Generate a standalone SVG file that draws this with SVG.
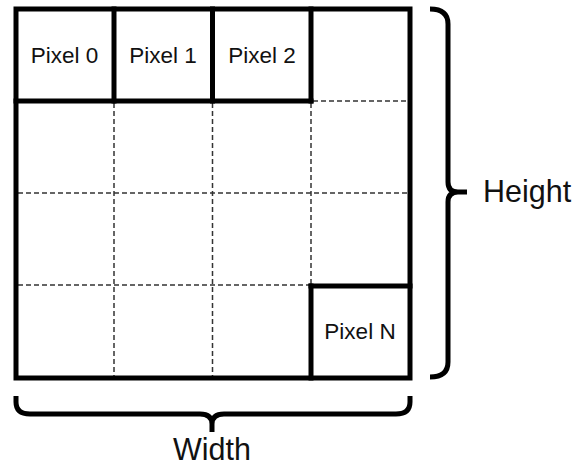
<svg xmlns="http://www.w3.org/2000/svg" width="583" height="465" viewBox="0 0 583 465">
<style>
.thick{fill:none;stroke:#000;stroke-width:5;stroke-linecap:square}
.dash{fill:none;stroke:#333;stroke-width:1.5;stroke-dasharray:5 3}
.brace{fill:none;stroke:#000;stroke-width:5;stroke-linecap:butt;stroke-linejoin:round}
.lbl{font-family:"Liberation Sans",Arial,sans-serif;font-size:22.5px;fill:#111;text-anchor:middle}
.big{font-family:"Liberation Sans",Arial,sans-serif;font-size:30.5px;fill:#111}
</style>
<rect width="583" height="465" fill="#fff"/>
<g id="connectors">
<line class="dash" x1="114" y1="103" x2="114" y2="376"/>
<line class="dash" x1="212.5" y1="103" x2="212.5" y2="376"/>
<line class="dash" x1="311" y1="103" x2="311" y2="284"/>
<line class="dash" x1="313" y1="101" x2="408" y2="101"/>
<line class="dash" x1="18" y1="193" x2="408" y2="193"/>
<line class="dash" x1="18" y1="285" x2="309" y2="285"/>
</g>
<g id="grid">
<rect class="thick" x="16" y="9" width="394" height="369"/>
<line class="thick" x1="16" y1="101" x2="311" y2="101"/>
<line class="thick" x1="114" y1="9" x2="114" y2="101"/>
<line class="thick" x1="212.5" y1="9" x2="212.5" y2="101"/>
<line class="thick" x1="311" y1="9" x2="311" y2="101"/>
<line class="thick" x1="311" y1="286" x2="410" y2="286"/>
<line class="thick" x1="311" y1="286" x2="311" y2="378"/>
</g>
<g id="pixel0"><text class="lbl" x="64.5" y="63">Pixel 0</text></g>
<g id="pixel1"><text class="lbl" x="163" y="63">Pixel 1</text></g>
<g id="pixel2"><text class="lbl" x="262" y="63">Pixel 2</text></g>
<g id="pixelN"><text class="lbl" x="360" y="339">Pixel N</text></g>
<g id="height-brace">
<path class="brace" d="M430,9 Q448,9 448,24 V182 Q448,192 458,192 H467 M458,192 Q448,192 448,202 V362 Q448,377 430,377"/>
<text class="big" x="483" y="202">Height</text>
</g>
<g id="width-brace">
<path class="brace" d="M16,396 V402 Q16,414 30,414 H200 Q212,414 212,424 V432 M212,424 Q212,414 224,414 H396 Q410,414 410,402 V396"/>
<text class="big" x="212" y="460" text-anchor="middle">Width</text>
</g>
</svg>
